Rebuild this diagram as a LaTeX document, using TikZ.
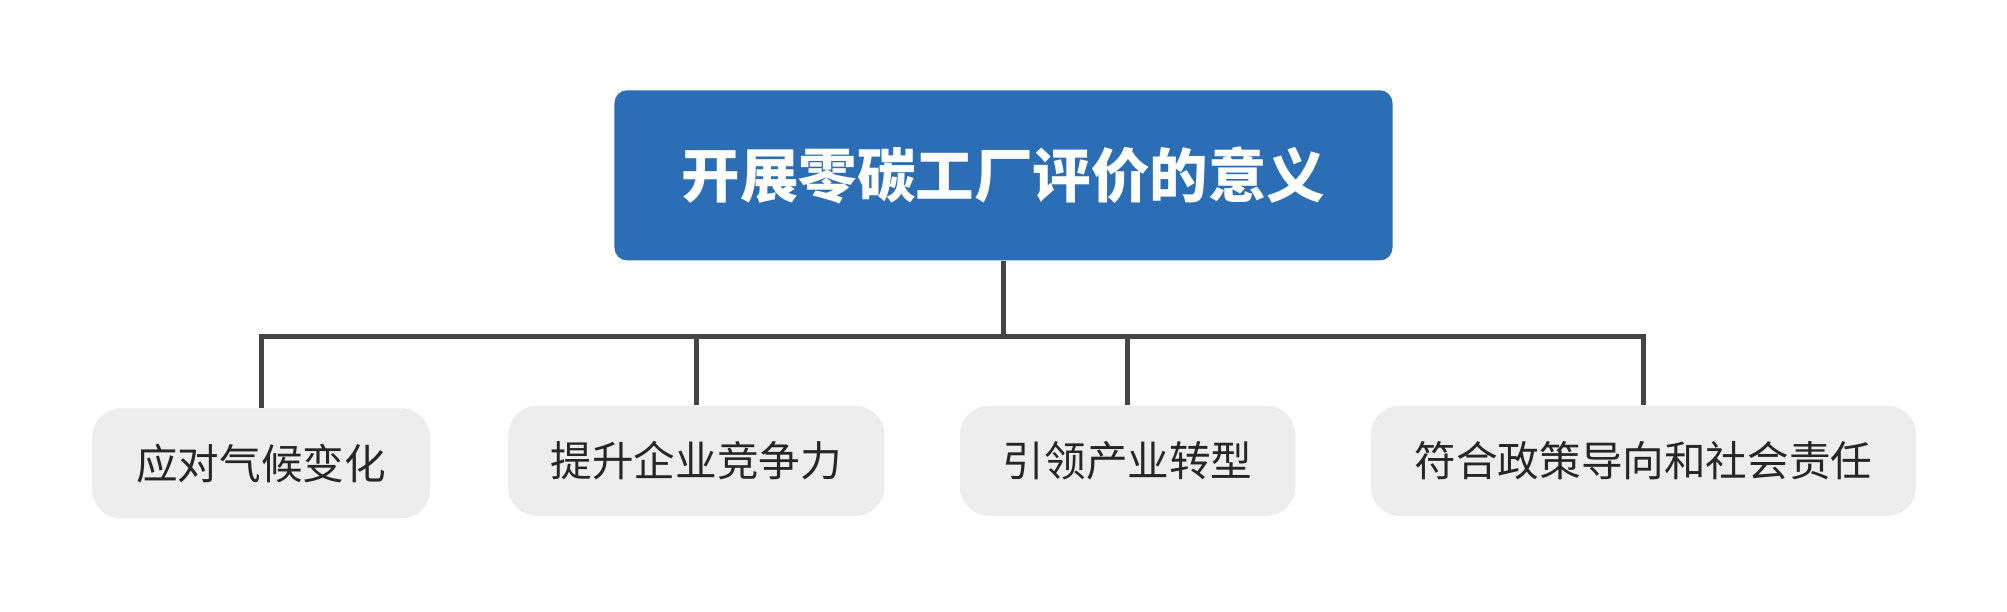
\documentclass[tikz,border=0pt]{standalone}
\usepackage{fontspec}
\setmainfont{Noto Sans CJK SC}
\usetikzlibrary{positioning}
\definecolor{rootblue}{HTML}{2C6EB5}
\definecolor{leafgray}{HTML}{EDEDED}
\definecolor{linegray}{HTML}{444444}
\tikzset{x=0.02cm, y=-0.02cm,
  every text node part/.style={align=center}}
\tikzset{rootbox/.style={fill=rootblue, rounded corners=0.2cm, text=white,
    minimum width=12.16cm, minimum height=2.66cm, font={\fontsize{26}{30}\selectfont\bfseries}},
  leaf/.style={fill=leafgray, rounded corners=0.45cm, text=black!85,
    minimum height=1.72cm, font={\fontsize{18.5}{22}\selectfont}},
  ln/.style={draw=linegray, line width=2.2pt}}
\begin{document}
\begin{tikzpicture}
  \useasboundingbox (0,0) rectangle (1568,478);
  \node[rootbox] (root) at (784,137) {开展零碳工厂评价的意义};
  \node[leaf, minimum width=5.28cm] (climate) at (204,362) {应对气候变化};
  \node[leaf, minimum width=5.88cm] (compete) at (544,360) {提升企业竞争力};
  \node[leaf, minimum width=5.24cm] (industry) at (881,360) {引领产业转型};
  \node[leaf, minimum width=8.52cm] (policy) at (1284,360) {符合政策导向和社会责任};
  \coordinate (hub) at (784,263);
  \draw[ln] (root.south) -- (hub);
  \draw[ln] (climate.north) |- (hub);
  \draw[ln] (compete.north) |- (hub);
  \draw[ln] (industry.north) |- (hub);
  \draw[ln] (policy.north) |- (hub);
\end{tikzpicture}
\end{document}
